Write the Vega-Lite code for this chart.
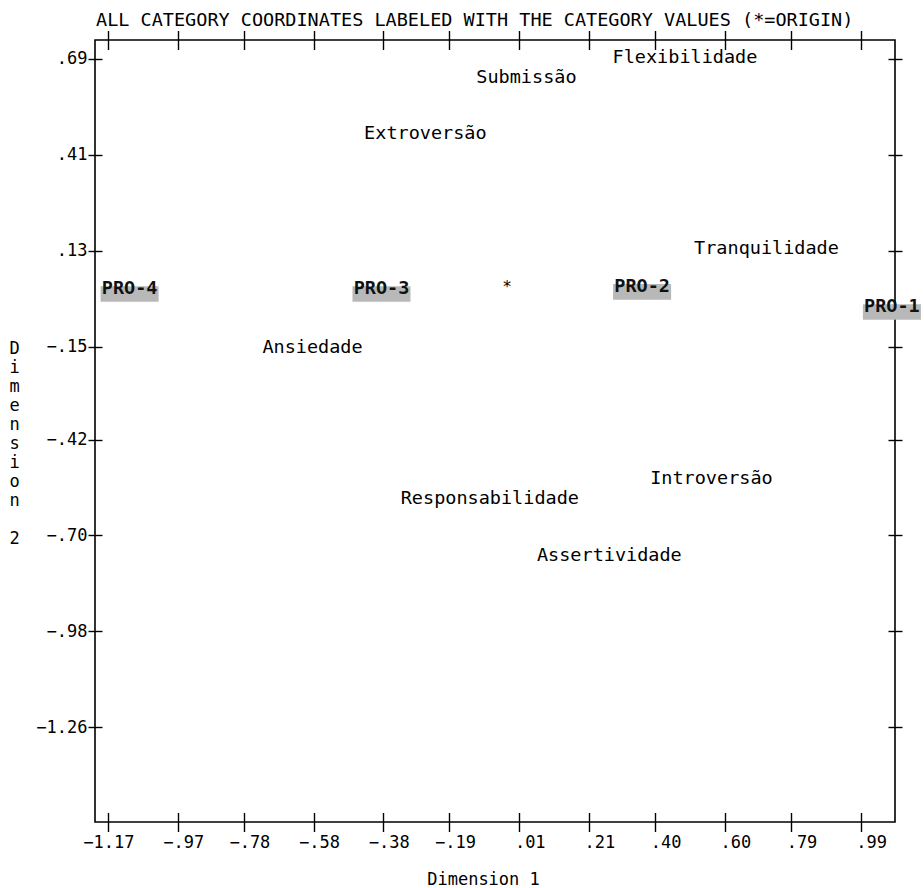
{
  "$schema": "https://vega.github.io/schema/vega-lite/v6.json",
  "width": 800,
  "height": 782,
  "autosize": {"type": "none"},
  "padding": {"left": 95, "top": 40, "right": 29, "bottom": 66},
  "background": "white",
  "config": {
    "font": "DejaVu Sans Mono",
    "view": {"stroke": "black", "strokeWidth": 1.6},
    "axis": {
      "domain": false,
      "grid": false,
      "tickColor": "black",
      "tickWidth": 1.4,
      "labelColor": "black",
      "labelFont": "DejaVu Sans Mono",
      "labelFontSize": 17,
      "labelFlush": false,
      "labelOverlap": false,
      "labelBound": false,
      "titleColor": "black",
      "titleFont": "DejaVu Sans Mono",
      "titleFontSize": 17,
      "titleFontWeight": "normal"
    }
  },
  "title": {
    "text": "ALL CATEGORY COORDINATES LABELED WITH THE CATEGORY VALUES (*=ORIGIN)",
    "anchor": "start",
    "frame": "group",
    "font": "DejaVu Sans Mono",
    "fontSize": 18.5,
    "fontWeight": "normal",
    "color": "black",
    "baseline": "alphabetic",
    "offset": 5,
    "dx": 1,
    "dy": 20
  },
  "data": {
    "values": [
      {"label": "Flexibilidade", "dim1": 0.486, "dim2": 0.696, "kind": "var"},
      {"label": "Submissão", "dim1": 0.031, "dim2": 0.6375, "kind": "var"},
      {"label": "Extroversão", "dim1": -0.259, "dim2": 0.474, "kind": "var"},
      {"label": "Tranquilidade", "dim1": 0.72, "dim2": 0.139, "kind": "var"},
      {"label": "Ansiedade", "dim1": -0.583, "dim2": -0.15, "kind": "var"},
      {"label": "Introversão", "dim1": 0.562, "dim2": -0.532, "kind": "var"},
      {"label": "Responsabilidade", "dim1": -0.074, "dim2": -0.591, "kind": "var"},
      {"label": "Assertividade", "dim1": 0.269, "dim2": -0.757, "kind": "var"},
      {"label": "PRO-4", "dim1": -1.108, "dim2": 0.022, "kind": "pro"},
      {"label": "PRO-3", "dim1": -0.385, "dim2": 0.022, "kind": "pro"},
      {"label": "PRO-2", "dim1": 0.363, "dim2": 0.028, "kind": "pro"},
      {"label": "PRO-1", "dim1": 1.08, "dim2": -0.0305, "kind": "pro"},
      {"label": "*", "dim1": 0, "dim2": 0, "kind": "origin"}
    ]
  },
  "resolve": {"axis": {"x": "independent", "y": "independent"}},
  "layer": [
    {
      "transform": [{"filter": "datum.kind === 'pro'"}],
      "mark": {
        "type": "point",
        "shape": "M-1,-0.27H1V0.27H-1Z",
        "size": 3364,
        "filled": true,
        "color": "#b8b8b8",
        "opacity": 1,
        "yOffset": 6
      },
      "encoding": {
        "x": {
          "field": "dim1",
          "type": "quantitative",
          "scale": {"domain": [-1.2073, 1.0889], "nice": false, "zero": false},
          "axis": {
            "orient": "bottom",
            "values": [-1.17, -0.97, -0.78, -0.58, -0.38, -0.19, 0.01, 0.21, 0.4, 0.6, 0.79, 0.99],
            "labelExpr": "replace(format(datum.value, '.2f'), '0.', '.')",
            "offset": -9.5,
            "tickSize": 19,
            "labelAlign": "right",
            "labelOffset": 26,
            "labelBaseline": "middle",
            "labelPadding": 11,
            "title": "Dimension 1",
            "titleAlign": "center",
            "titleBaseline": "alphabetic",
            "titleX": 388,
            "titleY": 72
          }
        },
        "y": {
          "field": "dim2",
          "type": "quantitative",
          "scale": {"domain": [-1.5358, 0.7454], "nice": false, "zero": false},
          "axis": {
            "orient": "left",
            "values": [0.69, 0.41, 0.13, -0.15, -0.42, -0.7, -0.98, -1.26],
            "labelExpr": "replace(format(datum.value, '.2f'), '0.', '.')",
            "offset": -7,
            "tickSize": 14,
            "labelAlign": "right",
            "labelBaseline": "middle",
            "labelPadding": 1,
            "title": ["D", "i", "m", "e", "n", "s", "i", "o", "n", "\u2800", "2"],
            "titleAngle": 0,
            "titleAlign": "center",
            "titleBaseline": "alphabetic",
            "titleLineHeight": 19,
            "titleX": -88,
            "titleY": 313
          }
        }
      }
    },
    {
      "mark": {"type": "point", "opacity": 0},
      "encoding": {
        "x": {
          "field": "dim1",
          "type": "quantitative",
          "axis": {
            "orient": "top",
            "values": [-1.17, -0.97, -0.78, -0.58, -0.38, -0.19, 0.01, 0.21, 0.4, 0.6, 0.79, 0.99],
            "labels": false,
            "offset": -9.5,
            "tickSize": 19,
            "title": null
          }
        },
        "y": {
          "field": "dim2",
          "type": "quantitative",
          "axis": {
            "orient": "right",
            "values": [0.69, 0.41, 0.13, -0.15, -0.42, -0.7, -0.98, -1.26],
            "labels": false,
            "offset": -7,
            "tickSize": 14,
            "title": null
          }
        }
      }
    },
    {
      "transform": [{"filter": "datum.kind === 'var'"}],
      "mark": {
        "type": "text",
        "font": "DejaVu Sans Mono",
        "fontSize": 18.5,
        "align": "center",
        "baseline": "middle",
        "color": "black"
      },
      "encoding": {
        "x": {"field": "dim1", "type": "quantitative", "axis": null},
        "y": {"field": "dim2", "type": "quantitative", "axis": null},
        "text": {"field": "label"}
      }
    },
    {
      "transform": [{"filter": "datum.kind === 'pro'"}],
      "mark": {
        "type": "text",
        "font": "DejaVu Sans Mono",
        "fontSize": 18.5,
        "fontWeight": "bold",
        "align": "center",
        "baseline": "middle",
        "color": "#111111"
      },
      "encoding": {
        "x": {"field": "dim1", "type": "quantitative", "axis": null},
        "y": {"field": "dim2", "type": "quantitative", "axis": null},
        "text": {"field": "label"}
      }
    },
    {
      "transform": [{"filter": "datum.kind === 'origin'"}],
      "mark": {
        "type": "text",
        "font": "DejaVu Sans Mono",
        "fontSize": 16,
        "align": "center",
        "baseline": "middle",
        "color": "black",
        "dx": -8.6,
        "dy": -9
      },
      "encoding": {
        "x": {"field": "dim1", "type": "quantitative", "axis": null},
        "y": {"field": "dim2", "type": "quantitative", "axis": null},
        "text": {"field": "label"}
      }
    }
  ]
}
